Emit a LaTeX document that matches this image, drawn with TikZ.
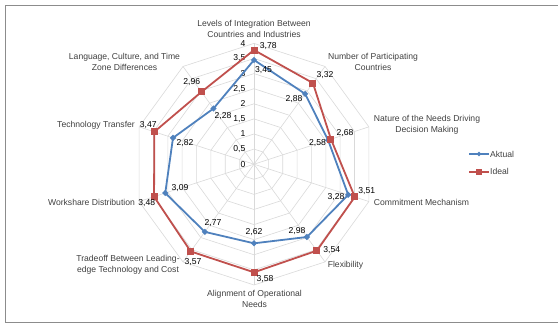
\documentclass[tikz,border=0pt]{standalone}
\usepackage{fontspec}
\setmainfont{Liberation Sans}
\usetikzlibrary{shapes.geometric}
\definecolor{aktual}{RGB}{79,129,189}
\definecolor{ideal}{RGB}{192,80,77}
\definecolor{gridc}{RGB}{217,217,217}
\definecolor{framec}{RGB}{140,140,140}
\definecolor{txt}{RGB}{64,64,64}
\begin{document}
\begin{tikzpicture}[x=1pt,y=1pt,
  font=\fontsize{8.6}{10.5}\selectfont,
  gridline/.style={draw=gridc,line width=0.6pt},
  aline/.style={draw=aktual,line width=1.8pt,line join=round},
  iline/.style={draw=ideal,line width=1.8pt,line join=round},
  amark/.style={diamond,fill=aktual,inner sep=0pt,minimum size=6.5pt},
  imark/.style={rectangle,fill=ideal,inner sep=0pt,minimum size=7pt},
  val/.style={inner sep=0pt,text=black},
  cat/.style={inner sep=0pt,align=center,text=txt},
  tick/.style={inner sep=0pt,anchor=east,text=black}]
\useasboundingbox (0,0) rectangle (558,323);
% frame
\coordinate (f1) at (558,317.5);
\coordinate (f2) at (5.5,317.5);
\coordinate (f3) at (5.5,0.8);
\coordinate (f4) at (558,0.8);
\draw[framec,line width=1pt] (f1) -- (f2) -- (f3) -- (f4);
\begin{scope}[shift={(254,158.8)}]
  \coordinate (c) at (0,0);
  % grid
  \foreach \r in {0.5,1,...,4}{
    \draw[gridline] (90:{\r*30.2}) \foreach \k in {1,...,9}{ -- ({90-36*\k}:{\r*30.2})} -- cycle;
  }
  \foreach \k in {0,...,9}{
    \coordinate (s\k) at ({90-36*\k}:120.8);
    \draw[gridline] (c) -- (s\k);
  }
  % tick labels
  \foreach \v/\t in {0/0,0.5/{0,5},1/1,1.5/{1,5},2/2,2.5/{2,5},3/3,3.5/{3,5},4/4}{
    \node[tick] (t\v) at (-8.5,{\v*30.2}) {\t};
  }
  % data
  \foreach \k/\va/\vi in {0/3.45/3.78,1/2.88/3.32,2/2.58/2.68,3/3.28/3.51,4/2.98/3.54,5/2.62/3.58,6/2.77/3.57,7/3.09/3.48,8/2.82/3.47,9/2.28/2.96}{
    \coordinate (pa\k) at ({90-36*\k}:{\va*30.2});
    \coordinate (pi\k) at ({90-36*\k}:{\vi*30.2});
  }
  \draw[aline] (pa0) -- (pa1) -- (pa2) -- (pa3) -- (pa4) -- (pa5) -- (pa6) -- (pa7) -- (pa8) -- (pa9) -- cycle;
  \draw[iline] (pi0) -- (pi1) -- (pi2) -- (pi3) -- (pi4) -- (pi5) -- (pi6) -- (pi7) -- (pi8) -- (pi9) -- cycle;
  \foreach \k in {0,...,9}{
    \node[amark] (ma\k) at (pa\k) {};
    \node[imark] (mi\k) at (pi\k) {};
  }
\end{scope}
% value labels Aktual
\node[val] (la0) at (263.5,252.5) {3,45};
\node[val] (la1) at (294,224) {2,88};
\node[val] (la2) at (317.5,180.3) {2,58};
\node[val] (la3) at (336,126.3) {3,28};
\node[val] (la4) at (297,92) {2,98};
\node[val] (la5) at (254,91.3) {2,62};
\node[val] (la6) at (213,100) {2,77};
\node[val] (la7) at (180,134.7) {3,09};
\node[val] (la8) at (185,179.7) {2,82};
\node[val] (la9) at (223,207) {2,28};
% value labels Ideal
\node[val] (li0) at (268.3,277.3) {3,78};
\node[val] (li1) at (325,248) {3,32};
\node[val] (li2) at (345,189.7) {2,68};
\node[val] (li3) at (366.7,132.3) {3,51};
\node[val] (li4) at (331.7,73) {3,54};
\node[val] (li5) at (265,43.7) {3,58};
\node[val] (li6) at (193,61.3) {3,57};
\node[val] (li7) at (146.7,119.7) {3,48};
\node[val] (li8) at (148.3,198) {3,47};
\node[val] (li9) at (191.7,241.3) {2,96};
% category labels
\node[cat] (c0) at (254,294.3) {Levels of Integration Between\\Countries and Industries};
\node[cat] (c1) at (373,261) {Number of Participating\\Countries};
\node[cat] (c2) at (427,198) {Nature of the Needs Driving\\Decision Making};
\node[cat] (c3) at (421.5,120.3) {Commitment Mechanism};
\node[cat] (c4) at (345.5,58) {Flexibility};
\node[cat] (c5) at (254.5,24.3) {Alignment of Operational\\Needs};
\node[cat] (c6) at (128,58) {Tradeoff Between Leading-\\edge Technology and Cost};
\node[cat] (c7) at (91.5,120.3) {Workshare Distribution};
\node[cat] (c8) at (96,198) {Technology Transfer};
\node[cat] (c9) at (124.5,261) {Language, Culture, and Time\\Zone Differences};
% legend
\coordinate (lga1) at (469,169);
\coordinate (lga2) at (489,169);
\draw[aktual,line width=1.8pt] (lga1) -- (lga2);
\node[amark,minimum size=5pt] (lgam) at (479,169) {};
\node[inner sep=0pt,anchor=west,text=txt] (lgat) at (490,169) {Aktual};
\coordinate (lgi1) at (469,151.3);
\coordinate (lgi2) at (489,151.3);
\draw[ideal,line width=1.8pt] (lgi1) -- (lgi2);
\node[imark,minimum size=6pt] (lgim) at (479,151.3) {};
\node[inner sep=0pt,anchor=west,text=txt] (lgit) at (490,151.3) {Ideal};
\end{tikzpicture}
\end{document}
